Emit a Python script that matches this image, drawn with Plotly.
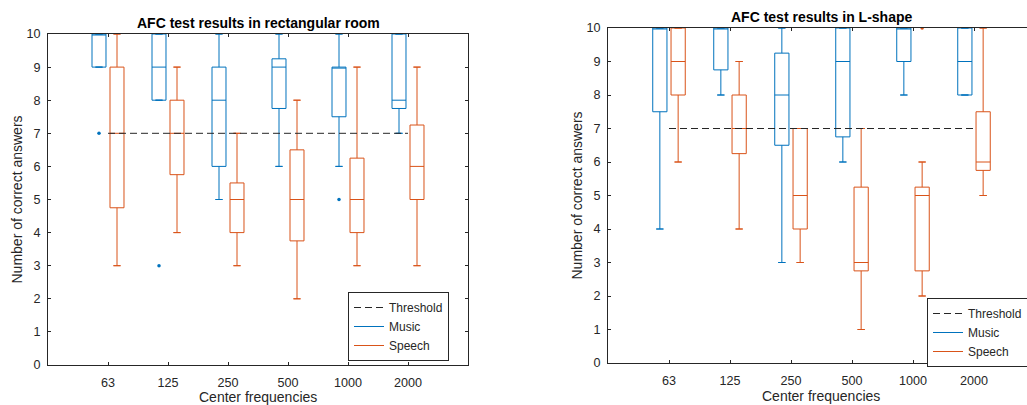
import plotly.graph_objects as go

# ---------------- data ----------------
categories = ["63", "125", "250", "500", "1000", "2000"]
threshold = 7

# Rectangular room
rect_music_q1 = [9, 8, 6, 7.75, 7.5, 7.75]
rect_music_med = [10, 9, 8, 9, 9, 8]
rect_music_q3 = [10, 10, 9, 9.25, 9, 10]
rect_music_lo = [9, 8, 5, 6, 6, 7]
rect_music_hi = [10, 10, 10, 10, 10, 10]
rect_music_out_cat = ["63", "125", "1000"]
rect_music_out_val = [7, 3, 5]

rect_speech_q1 = [4.75, 5.75, 4, 3.75, 4, 5]
rect_speech_med = [7, 7, 5, 5, 5, 6]
rect_speech_q3 = [9, 8, 5.5, 6.5, 6.25, 7.25]
rect_speech_lo = [3, 4, 3, 2, 3, 3]
rect_speech_hi = [10, 9, 7, 8, 9, 9]
rect_speech_out_cat = []
rect_speech_out_val = []

# L-shape room
lsh_music_q1 = [7.5, 8.75, 6.5, 6.75, 9, 8]
lsh_music_med = [10, 10, 8, 9, 10, 9]
lsh_music_q3 = [10, 10, 9.25, 10, 10, 10]
lsh_music_lo = [4, 8, 3, 6, 8, 8]
lsh_music_hi = [10, 10, 10, 10, 10, 10]
lsh_music_out_cat = []
lsh_music_out_val = []

lsh_speech_q1 = [8, 6.25, 4, 2.75, 2.75, 5.75]
lsh_speech_med = [9, 7, 5, 3, 5, 6]
lsh_speech_q3 = [10, 8, 7, 5.25, 5.25, 7.5]
lsh_speech_lo = [6, 4, 3, 1, 2, 5]
lsh_speech_hi = [10, 9, 7, 7, 6, 10]
lsh_speech_out_cat = ["1000"]
lsh_speech_out_val = [10]

# ---------------- style ----------------
BLUE = "#0072BD"
ORANGE = "#D95319"
AX = "#262626"
FONT = "Liberation Sans, Arial, sans-serif"
OFFSET = 0.15
BOXW = 0.233
CAP = 0.06

pos = {c: i + 1 for i, c in enumerate(categories)}

fig = go.Figure()


def add_series(q1, med, q3, lo, hi, out_cat, out_val, color, sign, xa, ya):
    xs = [pos[c] + sign * OFFSET for c in categories]
    fig.add_trace(go.Box(
        x=xs, q1=q1, median=med, q3=q3, lowerfence=lo, upperfence=hi,
        width=BOXW, fillcolor="rgba(0,0,0,0)", line=dict(color=color, width=1),
        boxpoints=False, showlegend=False, xaxis=xa, yaxis=ya, hoverinfo="skip"))
    cx, cy = [], []
    for x, l, h in zip(xs, lo, hi):
        cx += [x - CAP, x + CAP, None, x - CAP, x + CAP, None]
        cy += [l, l, None, h, h, None]
    fig.add_trace(go.Scatter(x=cx, y=cy, mode="lines", line=dict(color=color, width=1),
                             showlegend=False, xaxis=xa, yaxis=ya, hoverinfo="skip"))
    if out_cat:
        fig.add_trace(go.Scatter(
            x=[pos[c] + sign * OFFSET for c in out_cat], y=out_val, mode="markers",
            marker=dict(color=color, size=3.5), showlegend=False,
            xaxis=xa, yaxis=ya, hoverinfo="skip"))


def add_panel(xa, ya, leg, data_m, data_s):
    add_series(*data_m, BLUE, -1, xa, ya)
    add_series(*data_s, ORANGE, 1, xa, ya)
    fig.add_trace(go.Scatter(x=[1, 6], y=[threshold, threshold], mode="lines",
                             line=dict(color=AX, width=1, dash="7px,4px"),
                             name="Threshold", legend=leg, xaxis=xa, yaxis=ya))
    fig.add_trace(go.Scatter(x=[None], y=[None], mode="lines",
                             line=dict(color=BLUE, width=1), name="Music",
                             legend=leg, xaxis=xa, yaxis=ya))
    fig.add_trace(go.Scatter(x=[None], y=[None], mode="lines",
                             line=dict(color=ORANGE, width=1), name="Speech",
                             legend=leg, xaxis=xa, yaxis=ya))


add_panel("x", "y", "legend",
          (rect_music_q1, rect_music_med, rect_music_q3, rect_music_lo, rect_music_hi,
           rect_music_out_cat, rect_music_out_val),
          (rect_speech_q1, rect_speech_med, rect_speech_q3, rect_speech_lo, rect_speech_hi,
           rect_speech_out_cat, rect_speech_out_val))
add_panel("x2", "y2", "legend2",
          (lsh_music_q1, lsh_music_med, lsh_music_q3, lsh_music_lo, lsh_music_hi,
           lsh_music_out_cat, lsh_music_out_val),
          (lsh_speech_q1, lsh_speech_med, lsh_speech_q3, lsh_speech_lo, lsh_speech_hi,
           lsh_speech_out_cat, lsh_speech_out_val))

W, H = 1027, 405
tickfont = dict(family=FONT, size=12.6, color=AX)
common_x = dict(tickvals=[pos[c] for c in categories], ticktext=categories,
                ticks="inside", ticklen=3, tickcolor=AX, showline=True, linecolor=AX,
                linewidth=1, showgrid=False, zeroline=False, tickfont=tickfont,
                ticklabelstandoff=6)
common_y = dict(range=[0, 10], tickvals=list(range(0, 11)), ticks="inside", ticklen=3,
                tickcolor=AX, showline=True, linecolor=AX, linewidth=1, showgrid=False,
                zeroline=False, tickfont=tickfont, ticklabelstandoff=4)

fig.update_layout(
    width=W, height=H, margin=dict(l=0, r=0, t=0, b=0, autoexpand=False),
    paper_bgcolor="white", plot_bgcolor="white", boxmode="overlay",
    xaxis=dict(domain=[48 / W, 468 / W], range=[0, 7], mirror="ticks", anchor="y", **common_x),
    yaxis=dict(domain=[(H - 365) / H, (H - 34) / H], mirror="ticks", anchor="x", **common_y),
    xaxis2=dict(domain=[608 / W, 1.0], range=[0, (W - 608) / 61.0], mirror="ticks",
                anchor="y2", **common_x),
    yaxis2=dict(domain=[(H - 363) / H, (H - 28) / H], mirror=False, anchor="x2", **common_y),
    legend=dict(x=348 / W, y=(H - 292) / H, xanchor="left", yanchor="top",
                bgcolor="white", bordercolor=AX, borderwidth=1,
                font=dict(family=FONT, size=12, color=AX), tracegroupgap=0),
    legend2=dict(x=927 / W, y=(H - 298) / H, xanchor="left", yanchor="top",
                 bgcolor="white", bordercolor=AX, borderwidth=1,
                 font=dict(family=FONT, size=12, color=AX), tracegroupgap=0),
    showlegend=True,
)


def label(text, x, y, size=14, color=AX, angle=0):
    return dict(text=text, x=x / W, y=(H - y) / H, xref="paper", yref="paper",
                xanchor="center", yanchor="middle", showarrow=False, textangle=angle,
                font=dict(family=FONT, size=size, color=color))


ann = [
    label("<b>AFC test results in rectangular room</b>", 258, 23, color="black"),
    label("<b>AFC test results in L-shape</b>", 821, 17, color="black"),
    label("Center frequencies", 258, 397),
    label("Center frequencies", 821, 396),
    label("Number of correct answers", 16, 199.5, angle=-90),
    label("Number of correct answers", 576, 195.5, angle=-90),
]
fig.update_layout(annotations=ann)

fig.write_html("out.html", config={"displayModeBar": False},
               post_script="document.body.style.margin='0';")
